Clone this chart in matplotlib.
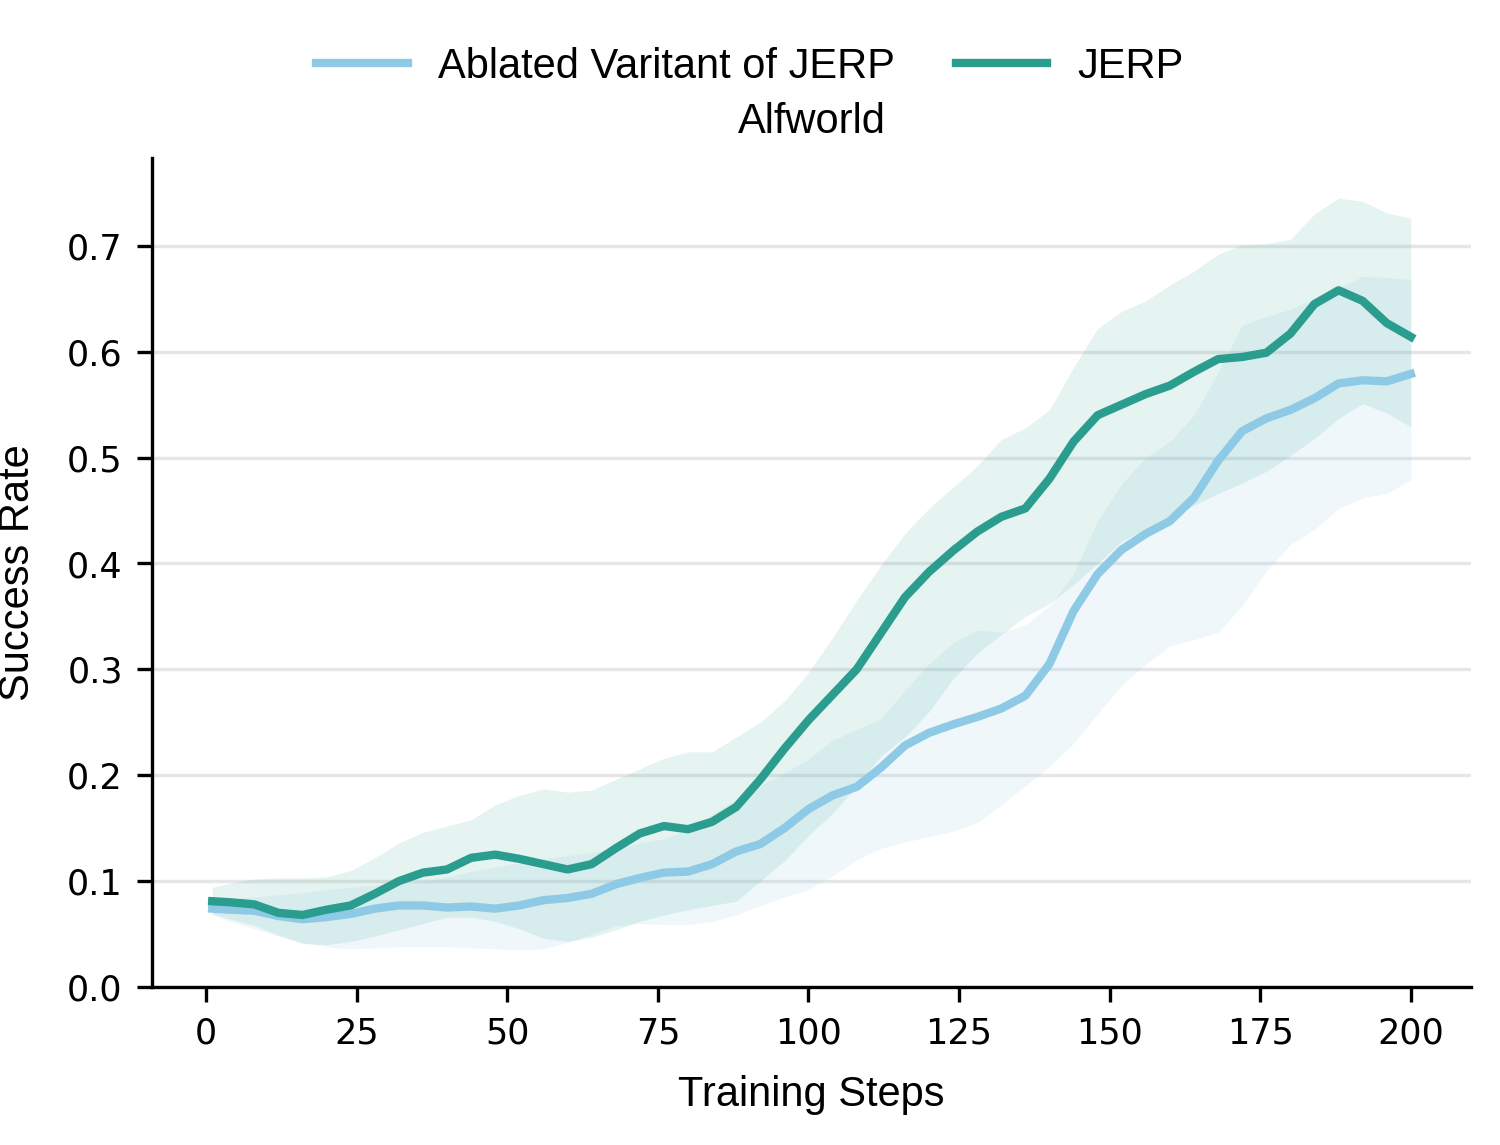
import numpy as np
import matplotlib
matplotlib.use("Agg")
import matplotlib.pyplot as plt

plt.rcParams['font.family'] = ['Liberation Sans', 'DejaVu Sans']

# training steps at which the curves were read
steps = [1, 4, 8, 12, 16, 20, 24, 28, 32, 36, 40, 44, 48, 52, 56, 60, 64, 68, 72, 76,
         80, 84, 88, 92, 96, 100, 104, 108, 112, 116, 120, 124, 128, 132, 136, 140,
         144, 148, 152, 156, 160, 164, 168, 172, 176, 180, 184, 188, 192, 196, 200]

# JERP
jerp_mean = [0.081, 0.080, 0.078, 0.070, 0.068, 0.073, 0.077, 0.088, 0.100, 0.108,
             0.111, 0.122, 0.125, 0.121, 0.116, 0.111, 0.116, 0.131, 0.145, 0.152,
             0.149, 0.156, 0.170, 0.196, 0.225, 0.252, 0.276, 0.300, 0.334, 0.368,
             0.392, 0.412, 0.430, 0.444, 0.452, 0.480, 0.515, 0.540, 0.550, 0.560,
             0.568, 0.581, 0.593, 0.595, 0.599, 0.617, 0.645, 0.658, 0.648, 0.627, 0.614]
jerp_upper = [0.094, 0.098, 0.102, 0.103, 0.103, 0.104, 0.110, 0.122, 0.136, 0.146,
              0.152, 0.158, 0.172, 0.181, 0.187, 0.184, 0.186, 0.196, 0.206, 0.216,
              0.222, 0.222, 0.236, 0.250, 0.270, 0.297, 0.330, 0.365, 0.398, 0.428,
              0.452, 0.472, 0.492, 0.517, 0.528, 0.545, 0.585, 0.622, 0.638, 0.648,
              0.663, 0.676, 0.692, 0.701, 0.702, 0.706, 0.730, 0.745, 0.742, 0.731, 0.726]
jerp_lower = [0.069, 0.064, 0.058, 0.049, 0.041, 0.040, 0.043, 0.048, 0.054, 0.060,
              0.066, 0.066, 0.062, 0.055, 0.046, 0.043, 0.047, 0.054, 0.062, 0.068,
              0.073, 0.077, 0.081, 0.100, 0.119, 0.143, 0.164, 0.190, 0.218, 0.236,
              0.260, 0.291, 0.315, 0.333, 0.350, 0.362, 0.380, 0.400, 0.421, 0.432,
              0.442, 0.455, 0.466, 0.476, 0.487, 0.502, 0.518, 0.537, 0.551, 0.542, 0.529]

# Ablated variant
abl_mean = [0.074, 0.073, 0.072, 0.067, 0.064, 0.066, 0.069, 0.074, 0.077, 0.077,
            0.075, 0.076, 0.074, 0.077, 0.082, 0.084, 0.088, 0.097, 0.103, 0.108,
            0.109, 0.116, 0.128, 0.135, 0.150, 0.168, 0.181, 0.189, 0.207, 0.228,
            0.240, 0.248, 0.255, 0.263, 0.275, 0.305, 0.355, 0.390, 0.413, 0.428,
            0.440, 0.462, 0.497, 0.525, 0.537, 0.545, 0.556, 0.570, 0.573, 0.572, 0.579]
abl_upper = [0.082, 0.083, 0.085, 0.087, 0.089, 0.092, 0.094, 0.096, 0.098, 0.100,
             0.104, 0.109, 0.113, 0.117, 0.121, 0.124, 0.127, 0.131, 0.136, 0.140,
             0.148, 0.163, 0.177, 0.190, 0.202, 0.215, 0.233, 0.243, 0.253, 0.280,
             0.305, 0.325, 0.337, 0.335, 0.342, 0.360, 0.390, 0.440, 0.475, 0.500,
             0.515, 0.540, 0.580, 0.625, 0.633, 0.640, 0.650, 0.660, 0.671, 0.670, 0.668]
abl_lower = [0.068, 0.062, 0.055, 0.048, 0.042, 0.038, 0.036, 0.037, 0.038, 0.038,
             0.038, 0.037, 0.036, 0.035, 0.036, 0.042, 0.050, 0.058, 0.060, 0.059,
             0.059, 0.062, 0.068, 0.077, 0.085, 0.092, 0.105, 0.120, 0.131, 0.137,
             0.142, 0.147, 0.155, 0.172, 0.190, 0.208, 0.230, 0.258, 0.285, 0.305,
             0.322, 0.328, 0.335, 0.360, 0.393, 0.418, 0.432, 0.452, 0.462, 0.466, 0.479]

c_abl = '#8ecae6'
c_jerp = '#2a9d8f'

fig = plt.figure(figsize=(5.0, 3.817), dpi=300)
ax = fig.add_axes([0.1013, 0.138, 0.8794, 0.724])

ax.fill_between(steps, abl_lower, abl_upper, color=c_abl, alpha=0.14, linewidth=0)
ax.fill_between(steps, jerp_lower, jerp_upper, color=c_jerp, alpha=0.12, linewidth=0)
ax.plot(steps, abl_mean, color=c_abl, lw=2, solid_joinstyle='round',
        label='Ablated Varitant of JERP')
ax.plot(steps, jerp_mean, color=c_jerp, lw=2, solid_joinstyle='round', label='JERP')

ax.set_xlim(-9, 210)
ax.set_ylim(0, 0.783)
ax.set_xticks([0, 25, 50, 75, 100, 125, 150, 175, 200])
ax.set_yticks([0.0, 0.1, 0.2, 0.3, 0.4, 0.5, 0.6, 0.7])
ax.yaxis.grid(True, color='#e6e6e6', lw=0.8)
ax.set_axisbelow(True)
ax.spines['top'].set_visible(False)
ax.spines['right'].set_visible(False)
ax.tick_params(labelsize=8.4, labelfontfamily='DejaVu Sans')

ax.set_xlabel('Training Steps', fontsize=10, labelpad=6)
ax.set_ylabel('Success Rate', fontsize=10, labelpad=7)
ax.set_title('Alfworld', fontsize=10)

fig.legend(loc='upper center', bbox_to_anchor=(0.5, 0.992), ncol=2, frameon=False,
           fontsize=10, handlelength=2.2, handletextpad=0.72, columnspacing=1.45)

fig.savefig('out.png', dpi=300)
